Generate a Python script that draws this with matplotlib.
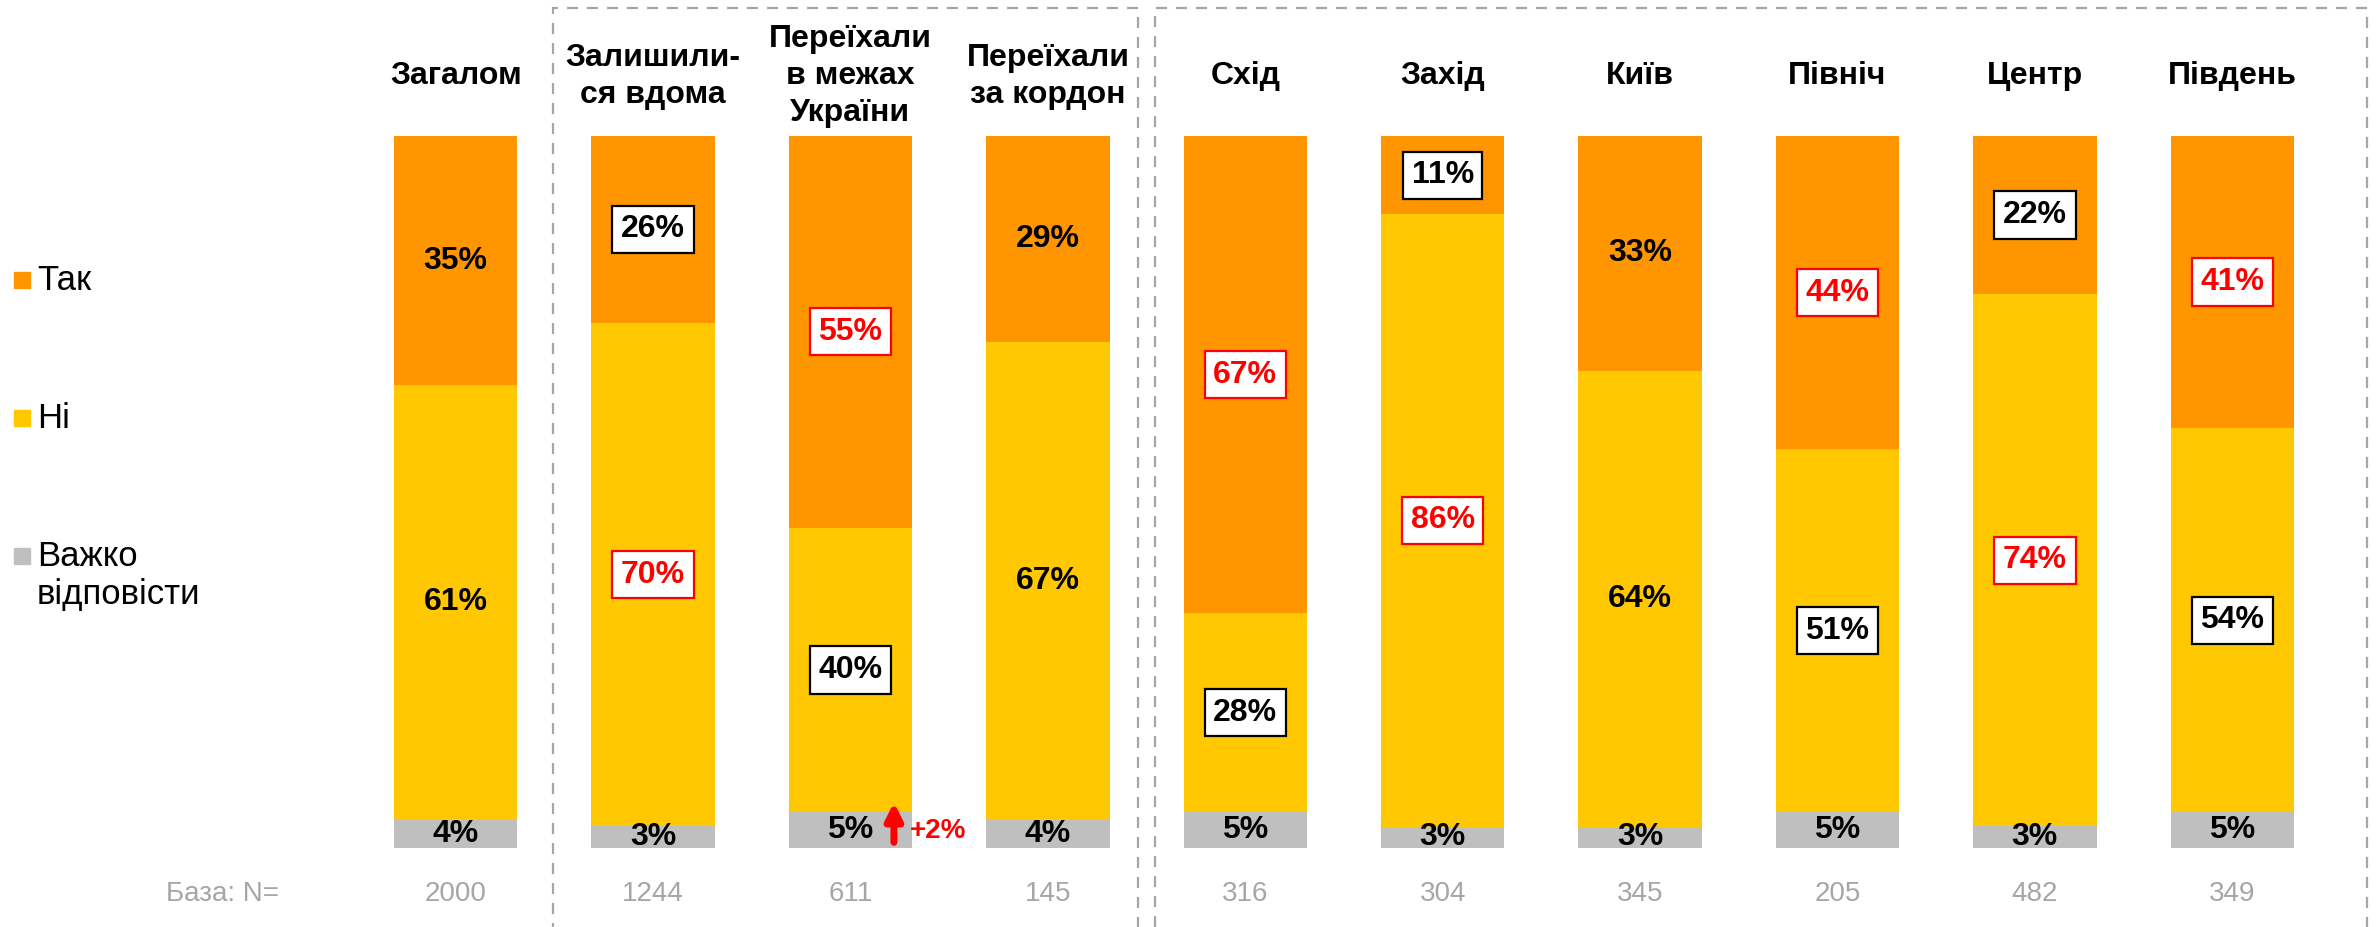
import matplotlib.pyplot as plt
from matplotlib.patches import Rectangle

groups = ["Загалом", "Залишили-\nся вдома", "Переїхали\nв межах\nУкраїни", "Переїхали\nза кордон",
          "Схід", "Захід", "Київ", "Північ", "Центр", "Південь"]
yes_vals = [35, 26, 55, 29, 67, 11, 33, 44, 22, 41]
no_vals = [61, 70, 40, 67, 28, 86, 64, 51, 74, 54]
hard_vals = [4, 3, 5, 4, 5, 3, 3, 5, 3, 5]
base_n = ["2000", "1244", "611", "145", "316", "304", "345", "205", "482", "349"]
# label highlight: "" plain, "k" black box, "r" red box
yes_style = ["", "k", "r", "", "r", "k", "", "r", "k", "r"]
no_style = ["", "r", "k", "", "k", "r", "", "k", "r", "k"]
legend_labels = ["Так", "Ні", "Важко\nвідповісти"]

C_YES, C_NO, C_HARD = "#FF9600", "#FFC800", "#BFBFBF"
W, H = 2376, 927

fig = plt.figure(figsize=(W / 100, H / 100), dpi=100)
ax = fig.add_axes([357 / W, 79 / H, 1974 / W, 712 / H])
ax.set_xlim(-0.5, 9.5)
ax.set_ylim(0, 100)
ax.axis("off")

x = list(range(len(groups)))
tot = [a + b + c for a, b, c in zip(yes_vals, no_vals, hard_vals)]
h = [v / t * 100 for v, t in zip(hard_vals, tot)]
n = [v / t * 100 for v, t in zip(no_vals, tot)]
y = [v / t * 100 for v, t in zip(yes_vals, tot)]
bw = 0.625
ax.bar(x, h, bw, color=C_HARD)
ax.bar(x, n, bw, bottom=h, color=C_NO)
ax.bar(x, y, bw, bottom=[a + b for a, b in zip(h, n)], color=C_YES)

lab_font = dict(fontsize=23, fontweight="bold", family=["Liberation Sans", "DejaVu Sans"],
                ha="center", va="center")


def label(xi, yi, val, style):
    if style == "k":
        ax.text(xi, yi, f"{val}%", color="black",
                bbox=dict(boxstyle="square,pad=0.27", fc="white", ec="black", lw=1.6), **lab_font)
    elif style == "r":
        ax.text(xi, yi, f"{val}%", color="#FF0000",
                bbox=dict(boxstyle="square,pad=0.27", fc="white", ec="#FF0000", lw=1.6), **lab_font)
    else:
        ax.text(xi, yi, f"{val}%", color="black", **lab_font)


for i in x:
    label(i, h[i] / 2, hard_vals[i], "")
    label(i, h[i] + n[i] / 2, no_vals[i], no_style[i])
    label(i, h[i] + n[i] + y[i] / 2, yes_vals[i], yes_style[i])
    ax.text(i, 108.4, groups[i], ha="center", va="center", fontsize=23, fontweight="bold",
            family=["Liberation Sans Narrow", "Liberation Sans", "DejaVu Sans"], linespacing=1.3)
    ax.text(i, -6.5, base_n[i], ha="center", va="center", fontsize=20, color="#A6A6A6",
            family=["Liberation Sans", "DejaVu Sans"], clip_on=False)

ax.text(-1.18, -6.5, "База: N=", ha="center", va="center", fontsize=20, color="#A6A6A6",
        family=["Liberation Sans", "DejaVu Sans"], clip_on=False)

# +2% change marker
ax.annotate("", xy=(2.22, 6.8), xytext=(2.22, 0.4),
            arrowprops=dict(arrowstyle="-|>,head_width=0.5,head_length=1.0", color="#FF0000", lw=5))
ax.text(2.3, 2.4, "+2%", ha="left", va="center", fontsize=20, fontweight="bold", color="#FF0000",
        family=["Liberation Sans", "DejaVu Sans"])

# dashed group frames
for x0, x1 in [(553, 1138), (1155, 2367)]:
    fig.add_artist(Rectangle((x0 / W, -0.05), (x1 - x0) / W, 1.05 - 8 / H, transform=fig.transFigure,
                             fill=False, ec="#A6A6A6", lw=1.6, ls=(0, (5, 4)), clip_on=False))

# legend
for lab, col, yc in zip(legend_labels, [C_YES, C_NO, C_HARD], [280, 418, 556]):
    fig.add_artist(Rectangle((14 / W, 1 - (yc + 8) / H), 16 / W, 16 / H, transform=fig.transFigure,
                             color=col))
    fig.text(37 / W, 1 - (yc - 16) / H, lab, ha="left", va="top", fontsize=25,
             family=["Liberation Sans", "DejaVu Sans"], linespacing=1.2)

fig.savefig("out.png", dpi=100)
